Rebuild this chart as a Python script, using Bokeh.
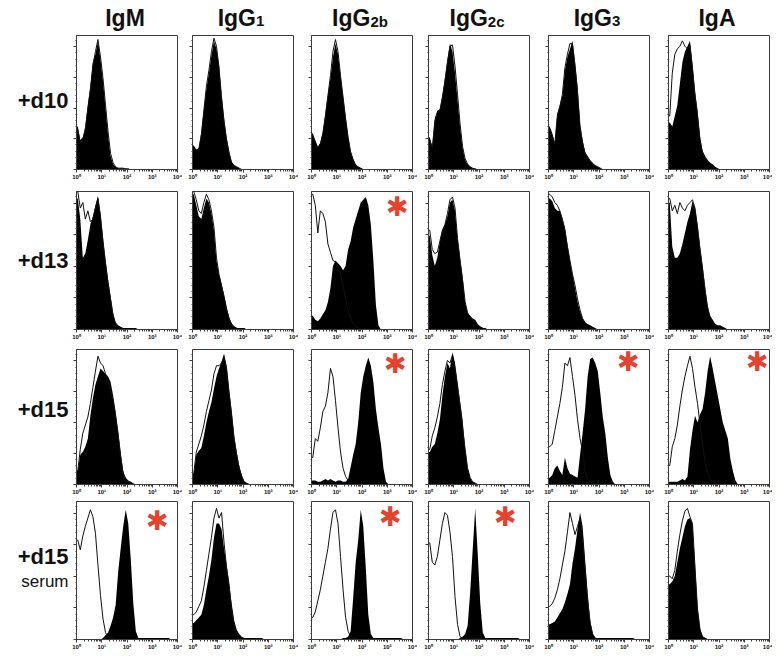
from bokeh.plotting import figure
from bokeh.layouts import row, column
from bokeh.models import Range1d, FixedTicker, CustomJSTickFormatter, Label
from bokeh.embed import file_html
from bokeh.resources import INLINE

# ---------------- labels ----------------
title_main = ["IgM", "IgG", "IgG", "IgG", "IgG", "IgA"]
title_sub = ["", "1", "2b", "2c", "3", ""]
row_labels = ["+d10", "+d13", "+d15", "+d15"]
row_sublabels = ["", "", "", "serum"]
x_ticks = [1, 10, 100, 1000, 10000]
x_tick_labels = ["10⁰", "10¹", "10²", "10³", "10⁴"]
n_bins = 40  # log-spaced channels over 10^0 .. 10^4

# ---------------- histogram heights (% of panel height) ----------------
# row 1: +d10
igm_d10_fill = [32,22,24,32,48,62,80,86,96,82,66,46,26,10,4,2,1,1,1,1,1]
igm_d10_ctrl = [30,20,22,30,46,60,78,88,97,84,68,48,28,12,5,2,1,1,1]
igg1_d10_fill = [18,15,16,28,45,60,72,85,96,90,78,56,38,24,14,6,3,2,1]
igg1_d10_ctrl = [16,14,15,26,44,62,74,88,98,92,76,54,36,22,12,5,3,2,1]
igg2b_d10_fill = [27,22,17,20,28,42,56,68,84,94,86,70,55,40,25,14,8,4,2,1]
igg2b_d10_ctrl = [25,20,16,19,27,40,55,70,88,97,88,70,54,38,24,13,7,3,2,1]
igg2c_d10_fill = [24,17,38,44,45,55,68,82,94,88,72,52,32,16,7,4,2,1,1]
igg2c_d10_ctrl = [22,16,36,42,44,54,66,80,92,93,77,56,34,17,8,4,2,1]
igg3_d10_fill = [32,27,20,42,48,55,74,84,90,96,80,62,34,22,13,10,7,5,3,2,1]
igg3_d10_ctrl = [30,25,19,40,47,56,76,86,94,94,78,58,32,20,12,9,6,4,3,2,1]
iga_d10_fill = [35,32,40,48,64,80,88,92,96,78,58,44,24,14,10,7,5,4,2,1]
iga_d10_ctrl = [40,72,86,90,92,96,92,90,93,76,56,40,22,12,8,5,3,2,1]
# row 2: +d13
igm_d13_fill = [95,80,52,55,65,76,82,90,97,84,66,50,36,24,12,5,3,2,1,1,1,1,1,1]
igm_d13_ctrl = [100,88,92,80,86,78,80,88,95,82,64,48,34,22,10,4,2,1]
igg1_d13_fill = [98,90,82,80,88,95,92,84,72,50,40,33,25,16,9,4,2,1,1,1,1]
igg1_d13_ctrl = [100,94,86,84,92,98,94,86,74,52,40,32,24,15,8,4,2,1]
igg2b_d13_fill = [10,7,6,8,11,14,20,30,46,50,48,46,43,46,58,64,74,80,86,92,94,96,90,76,50,18,3]
igg2b_d13_ctrl = [98,90,70,86,84,78,62,56,50,49,46,40,32,22,14,8,4,2,1]
igg2c_d13_fill = [68,54,46,52,64,72,76,82,92,94,86,66,52,38,20,12,10,8,7,4,2,1,1]
igg2c_d13_ctrl = [72,58,55,56,64,72,76,84,94,96,88,66,50,36,20,12,9,7,5,3,2,1]
igg3_d13_fill = [95,93,88,86,86,80,74,62,50,40,30,20,13,8,5,4,3,2,1]
igg3_d13_ctrl = [98,96,92,90,86,80,72,60,50,40,32,22,14,8,5,3,2,1]
iga_d13_fill = [92,60,52,52,55,62,70,78,84,93,88,76,60,46,31,18,10,7,4,3,3,2,1]
iga_d13_ctrl = [95,86,90,84,92,88,86,90,92,94,88,74,58,44,28,15,8,5,3,2,1]
# row 3: +d15
igm_d15_fill = [10,22,24,28,34,51,64,74,80,86,84,82,80,76,66,54,40,24,10,5,3,2,1]
igm_d15_ctrl = [10,26,38,44,50,60,72,84,95,90,88,82,76,70,62,50,36,20,8,4,2,1]
igg1_d15_fill = [8,22,25,27,36,46,54,61,71,80,86,91,97,88,70,54,36,24,14,7,2,1]
igg1_d15_ctrl = [8,24,30,36,44,54,62,70,82,88,88,90,94,86,68,52,34,22,12,6,2,1]
igg2b_d15_fill = [3,3,2,2,3,4,3,4,3,2,3,3,2,2,4,13,22,30,46,68,80,88,94,88,76,56,42,30,12,2]
igg2b_d15_ctrl = [20,34,32,42,54,58,68,86,80,62,42,24,12,6,3,2,1]
igg2c_d15_fill = [24,28,30,38,48,66,80,90,86,98,90,76,62,48,27,12,5,2,1]
igg2c_d15_ctrl = [26,36,42,50,60,74,84,92,90,96,86,72,58,42,26,12,5,2,1]
igg3_d15_fill = [5,7,12,14,10,7,20,12,8,7,6,5,22,38,56,80,93,94,90,84,68,50,38,20,7,2]
igg3_d15_ctrl = [28,30,40,50,60,72,90,88,94,80,66,48,34,24,10,4,2,1]
iga_d15_fill = [2,2,2,2,3,4,3,6,26,40,51,46,52,56,68,84,95,86,76,66,56,46,40,34,19,10,3]
iga_d15_ctrl = [14,28,34,44,58,70,80,88,95,86,72,60,44,30,16,8,4,2,1]
# row 4: +d15 serum
igm_s_fill = [0,0,0,0,0,0,0,0,0,0,1,3,5,10,16,25,49,66,82,94,84,58,26,6,1,1,1,1,1,1,1,1,1,1,1,1,1]
igm_s_ctrl = [72,65,75,82,88,94,89,77,54,32,15,5,2,1,1]
igg1_s_fill = [12,14,16,18,25,36,46,58,74,84,84,80,66,54,42,26,14,7,4,2,1,1,1,1,1,1,1,1]
igg1_s_ctrl = [18,20,24,28,38,50,62,74,88,95,88,92,70,52,38,22,10,4,2,1]
igg2b_s_fill = [0,0,0,0,0,0,0,0,0,0,0,0,1,1,2,6,30,56,72,94,82,52,18,4,1,1,1,1,1,1,1,1,1,1,1,1]
igg2b_s_ctrl = [16,20,28,36,46,56,66,80,92,94,84,60,36,16,6,2,1,1]
igg2c_s_fill = [0,0,0,0,0,0,0,0,0,0,0,0,1,2,4,10,34,65,95,62,26,5,1,1,1,1,1,1,1,1,1,1,1,1,1,1]
igg2c_s_ctrl = [70,56,54,60,72,84,92,90,78,60,31,11,2,1,1,1,1,1,1,1,1]
igg3_s_fill = [11,12,13,16,19,22,27,33,40,55,66,80,92,82,58,34,14,4,1,1,1,1,1,1,1,1,1,1,1,1,1,1,1,1]
igg3_s_ctrl = [24,26,30,36,44,54,64,78,92,84,76,82,88,74,50,28,12,4,1]
iga_s_fill = [40,42,46,56,66,74,82,87,88,84,55,23,8,2,1]
iga_s_ctrl = [46,44,50,64,76,86,93,95,89,84,52,22,7,2,1]

panels = [
    [(igm_d10_fill, igm_d10_ctrl), (igg1_d10_fill, igg1_d10_ctrl), (igg2b_d10_fill, igg2b_d10_ctrl),
     (igg2c_d10_fill, igg2c_d10_ctrl), (igg3_d10_fill, igg3_d10_ctrl), (iga_d10_fill, iga_d10_ctrl)],
    [(igm_d13_fill, igm_d13_ctrl), (igg1_d13_fill, igg1_d13_ctrl), (igg2b_d13_fill, igg2b_d13_ctrl),
     (igg2c_d13_fill, igg2c_d13_ctrl), (igg3_d13_fill, igg3_d13_ctrl), (iga_d13_fill, iga_d13_ctrl)],
    [(igm_d15_fill, igm_d15_ctrl), (igg1_d15_fill, igg1_d15_ctrl), (igg2b_d15_fill, igg2b_d15_ctrl),
     (igg2c_d15_fill, igg2c_d15_ctrl), (igg3_d15_fill, igg3_d15_ctrl), (iga_d15_fill, iga_d15_ctrl)],
    [(igm_s_fill, igm_s_ctrl), (igg1_s_fill, igg1_s_ctrl), (igg2b_s_fill, igg2b_s_ctrl),
     (igg2c_s_fill, igg2c_s_ctrl), (igg3_s_fill, igg3_s_ctrl), (iga_s_fill, iga_s_ctrl)],
]

# significant differences (red asterisk): (row, col) -> (fraction across, height %)
stars = {(1, 2): (0.85, 89), (2, 2): (0.83, 90), (2, 4): (0.79, 91), (2, 5): (0.88, 91),
         (3, 0): (0.80, 86), (3, 2): (0.78, 89), (3, 3): (0.76, 89)}

# ---------------- layout / style ----------------
FONT = "Liberation Sans"
FRAME_W = 101
LABEL_W = 69
HEAD_H = 32
frame_h = [134, 138, 135, 138]
border_bottom = [19, 17, 14, 16]
border_top = 3
col_borders = [(7, 5), (10, 5), (13, 5), (11, 5), (14, 5), (14, 3)]
BOX = "#3c3c3c"
RED = "#e5432e"
CENTER_SHIFT = 0.35  # label y is the centre of the text box: baseline + 0.35 * size

centers = [10 ** ((i + 0.5) * 4 / n_bins) for i in range(n_bins)]
xs = [1.0] + centers + [10000.0]
y_major = [0, 22.9, 45.8, 68.7, 91.6]
y_minor = [i * 4.58 for i in range(22)]
x_minor = [m * 10 ** k for k in range(4) for m in range(2, 10)]


def pad(v):
    v = list(v) + [0] * (n_bins - len(v))
    return [v[0]] + v + [v[-1]]


def panel(r, c):
    fill, ctrl = panels[r][c]
    bl, br = col_borders[c]
    p = figure(frame_width=FRAME_W, frame_height=frame_h[r], x_axis_type="log",
               x_range=Range1d(1, 10000), y_range=Range1d(0, 100),
               output_backend="svg", toolbar_location=None, title=None,
               min_border_left=bl, min_border_right=br,
               min_border_top=border_top, min_border_bottom=border_bottom[r])
    p.grid.visible = False
    p.outline_line_color = BOX
    p.outline_line_width = 1
    p.background_fill_color = "white"
    p.border_fill_color = "white"

    p.varea(x=xs, y1=0, y2=pad(fill), fill_color="black")
    p.line(x=xs, y=pad(ctrl), line_color="#111111", line_width=1)

    xa = p.xaxis[0]
    xa.ticker = FixedTicker(ticks=x_ticks, minor_ticks=x_minor)
    xa.major_label_overrides = {t: l for t, l in zip(x_ticks, x_tick_labels)}
    xa.major_label_text_font_size = "6px"
    xa.major_label_text_font = FONT
    xa.major_label_text_font_style = "bold"
    xa.major_label_text_color = "#111111"
    xa.major_label_standoff = 1
    xa.major_tick_out = 3
    xa.major_tick_in = 0
    xa.minor_tick_out = 2
    xa.minor_tick_in = 0
    xa.axis_line_color = BOX
    xa.major_tick_line_color = BOX
    xa.minor_tick_line_color = BOX

    ya = p.yaxis[0]
    ya.ticker = FixedTicker(ticks=y_major, minor_ticks=y_minor)
    ya.formatter = CustomJSTickFormatter(code="return ''")
    ya.major_label_standoff = 0
    ya.major_label_text_font_size = "1px"
    ya.major_tick_out = 3
    ya.major_tick_in = 0
    ya.minor_tick_out = 1
    ya.minor_tick_in = 0
    ya.axis_line_color = BOX
    ya.major_tick_line_color = BOX
    ya.minor_tick_line_color = BOX

    if (r, c) in stars:
        fx, fy = stars[(r, c)]
        p.add_layout(Label(x=10 ** (4 * fx), y=fy, text="✱", text_color=RED,
                           text_font="DejaVu Sans", text_font_size="27px",
                           text_align="center", text_baseline="middle"))
    return p


def blank(w, h):
    p = figure(frame_width=w, frame_height=h, x_range=Range1d(0, w), y_range=Range1d(0, h),
               output_backend="svg", toolbar_location=None, title=None,
               min_border=0, min_border_left=0, min_border_right=0,
               min_border_top=0, min_border_bottom=0)
    p.axis.visible = False
    p.grid.visible = False
    p.outline_line_color = None
    p.border_fill_color = "white"
    p.background_fill_color = "white"
    return p


def text(p, x, baseline, s, size, bold, align):
    p.add_layout(Label(x=x, y=baseline + CENTER_SHIFT * size, text=s, text_font=FONT,
                       text_font_size=f"{size}px", text_font_style="bold" if bold else "normal",
                       text_color="#111111", text_align=align, text_baseline="alphabetic"))


# header with column titles
total_w = LABEL_W + sum(bl + FRAME_W + br for bl, br in col_borders)
head = blank(total_w, HEAD_H)
main_em = {"I": 0.278, "g": 0.611, "G": 0.778, "M": 0.833, "A": 0.722}
sub_em = {"1": 0.556, "2": 0.556, "3": 0.556, "b": 0.611, "c": 0.556}
x0 = LABEL_W
for c in range(6):
    bl, br = col_borders[c]
    cx = x0 + bl + FRAME_W / 2
    x0 += bl + FRAME_W + br
    wm = sum(main_em[ch] for ch in title_main[c]) * 23
    ws = sum(sub_em[ch] for ch in title_sub[c]) * 15
    left = cx - (wm + ws) / 2 - 2
    text(head, left, 6, title_main[c], 23, True, "left")
    if title_sub[c]:
        text(head, left + wm, 6, title_sub[c], 15, True, "left")

label_baseline = [83, 81, 84, 94]
sub_gap = 23
rows = [head]
for r in range(4):
    h = border_top + frame_h[r] + border_bottom[r]
    lab = blank(LABEL_W, h)
    text(lab, LABEL_W - 1, label_baseline[r], row_labels[r], 22, True, "right")
    if row_sublabels[r]:
        text(lab, LABEL_W - 1, label_baseline[r] - sub_gap, row_sublabels[r], 17, False, "right")
    rows.append(row(lab, *[panel(r, c) for c in range(6)]))

layout = column(*rows)
open("out.html", "w").write(file_html(layout, INLINE, title="Ig isotype histograms"))
